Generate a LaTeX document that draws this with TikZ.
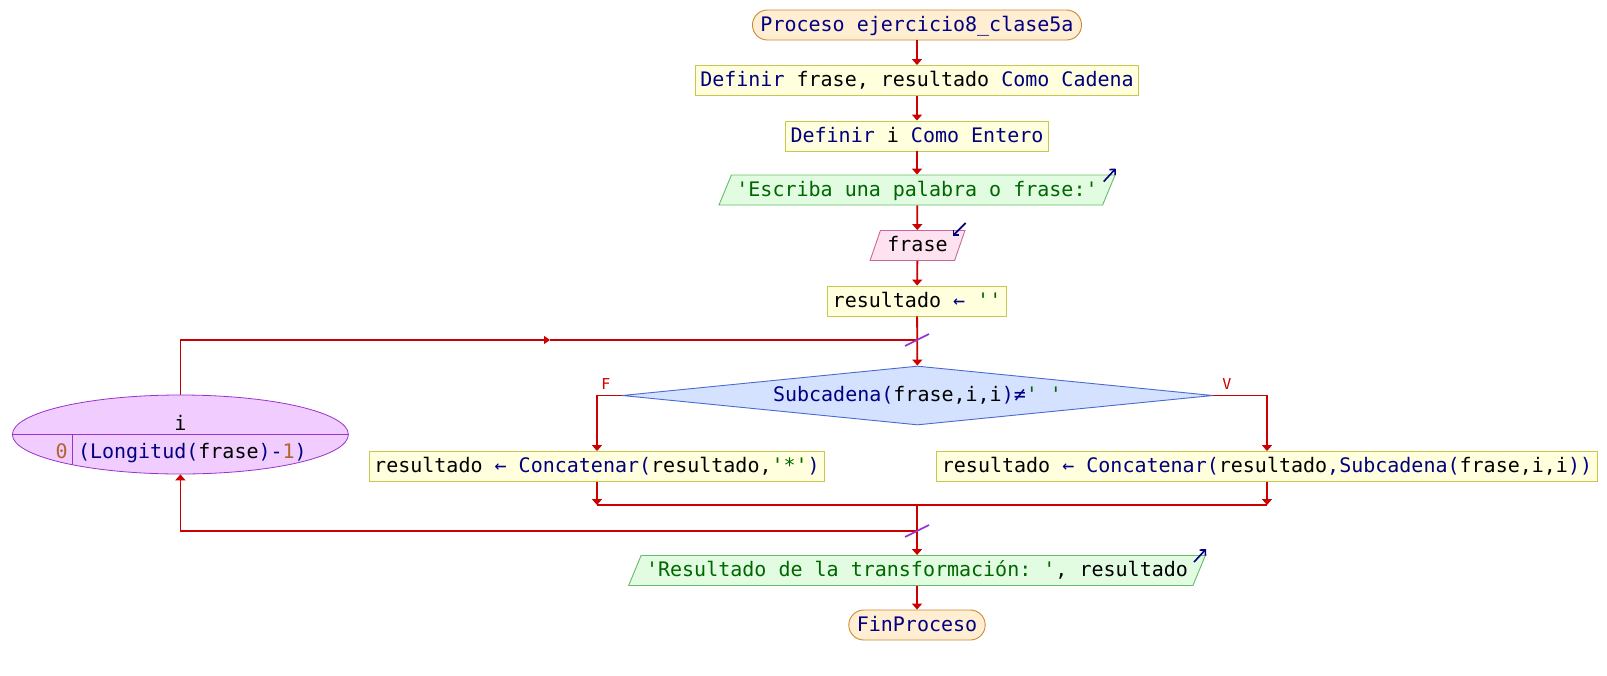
\documentclass[tikz,border=0pt]{standalone}
\usepackage{fontspec}
\setmonofont{DejaVu Sans Mono}
\usetikzlibrary{shapes.geometric,arrows.meta,calc}

% palette
\definecolor{kwc}{HTML}{000080}
\definecolor{strc}{HTML}{006600}
\definecolor{numc}{HTML}{B4642A}
\definecolor{flowc}{HTML}{CC0000}
\definecolor{termf}{HTML}{FFEED2}
\definecolor{termb}{HTML}{CC8833}
\definecolor{procf}{HTML}{FFFFDD}
\definecolor{procb}{HTML}{C8C850}
\definecolor{outf}{HTML}{E2FCE2}
\definecolor{outb}{HTML}{66BB66}
\definecolor{inf}{HTML}{FFE2F0}
\definecolor{inb}{HTML}{CC6699}
\definecolor{condf}{HTML}{D4E2FF}
\definecolor{condb}{HTML}{4A6AD0}
\definecolor{loopf}{HTML}{F0CCFF}
\definecolor{loopb}{HTML}{9933CC}

% token colouring
\newcommand\pkw[1]{\textcolor{kwc}{#1}}
\newcommand\pstr[1]{\textcolor{strc}{#1}}
\newcommand\pnumb[1]{\textcolor{numc}{#1}}

\tikzset{
  codetext/.style={font=\ttfamily\fontsize{20}{24}\selectfont,
    text height=16pt, text depth=4pt, inner ysep=5pt, inner xsep=5pt},
  termbox/.style={codetext, rectangle, rounded corners=15pt, draw=termb,
    fill=termf, line width=0.9pt, inner xsep=8pt},
  procbox/.style={codetext, rectangle, draw=procb, fill=procf, line width=0.9pt},
  outbox/.style={codetext, trapezium, trapezium left angle=67.5,
    trapezium right angle=112.5, draw=outb, fill=outf, line width=0.9pt},
  inbox/.style={codetext, trapezium, trapezium left angle=71,
    trapezium right angle=109, draw=inb, fill=inf, line width=0.9pt, inner xsep=7pt},
  condbox/.style={codetext, diamond, aspect=10, inner sep=0pt,
    minimum width=591pt, minimum height=59pt, draw=condb, fill=condf, line width=0.9pt},
  loopbox/.style={ellipse, minimum width=336pt, minimum height=79pt,
    draw=loopb, fill=loopf, line width=0.8pt,
    path picture={
      \draw[loopb, line width=0.8pt] (path picture bounding box.west) -- (path picture bounding box.east);
      \draw[loopb, line width=0.8pt] ($(path picture bounding box.center)+(-107.6,0)$) -- ++(0,60);
    }},
  plaintext/.style={codetext, inner ysep=0pt},
  branchlbl/.style={font=\ttfamily\fontsize{15}{18}\selectfont, text=flowc, inner sep=0pt},
  flowline/.style={draw=flowc, line width=1.8pt},
  flow/.style={flowline, -{Triangle[length=6pt,width=10pt]}},
  midflow/.style={flowline, -{Triangle[length=6pt,width=8pt]}},
  joinmark/.style={draw=loopb, line width=1.6pt},
  iomark/.style={draw=kwc, line width=1.6pt, -{Straight Barb[length=4pt,width=8pt]}}
}

\begin{document}
\begin{tikzpicture}[x=1pt, y=-1pt]
  \fill[white] (0,0) rectangle (1607,675);
  \useasboundingbox (0,0) rectangle (1607,675);

  % main column
  \node[termbox] (start) at (917,25) {\pkw{Proceso ejercicio8\_clase5a}};
  \node[procbox] (def1) at (917,80.5) {\pkw{Definir} frase, resultado \pkw{Como Cadena}};
  \node[procbox] (def2) at (917,136) {\pkw{Definir} i \pkw{Como Entero}};
  \node[outbox] (out1) at (917,190) {\pstr{'Escriba una palabra o frase:'}};
  \node[inbox] (in1) at (917.5,245.5) {frase};
  \node[procbox] (res0) at (917,301) {resultado \pkw{←} \pstr{''}};
  \node[condbox] (cond) at (917.5,395.5) {\pkw{Subcadena(}frase,i,i\pkw{)≠}\pstr{' '}};
  \node[procbox] (bodyF) at (597,466.5)
    {resultado \pkw{←} \pkw{Concatenar(}resultado,\pstr{'*'}\pkw{)}};
  \node[procbox] (bodyV) at (1267,466.5)
    {resultado \pkw{←} \pkw{Concatenar(}resultado\pkw{,Subcadena(}frase,i,i\pkw{))}};
  \node[outbox] (out2) at (917,570.5)
    {\pstr{'Resultado de la transformación: '}, resultado};
  \node[termbox] (end) at (917,625) {\pkw{FinProceso}};

  % counting loop
  \node[loopbox] (loop) at (180.4,434.5) {};
  \node[plaintext] (loopvar) at (180.4,424) {i};
  \node[plaintext, anchor=east] (loopfrom) at (72.8,452.5) {\pnumb{0}};
  \node[plaintext, anchor=west] (loopto) at (72.8,452.5)
    {\pkw{(Longitud(}frase\pkw{)-}\pnumb{1}\pkw{)}};

  % branch labels
  \node[branchlbl] (lblF) at (606,384) {F};
  \node[branchlbl] (lblV) at (1227,384) {V};

  % junction points
  \coordinate (jTop) at (917,340);
  \coordinate (midA) at (550,340);
  \coordinate (mergeL) at (597,505);
  \coordinate (mergeR) at (1267,505);
  \coordinate (jMid) at (917,505);
  \coordinate (jBot) at (917,531);

  % connectors
  \draw[flow] (start) -- (def1);
  \draw[flow] (def1) -- (def2);
  \draw[flow] (def2) -- (out1);
  \draw[flow] (out1) -- (in1);
  \draw[flow] (in1) -- (res0);
  \draw[flow] (res0) -- (cond);
  \draw[midflow] (loop.north) |- (midA);
  \draw[flowline] (midA) -- (jTop);
  \draw[flow] (cond.west) -| (bodyF);
  \draw[flow] (cond.east) -| (bodyV);
  \draw[flow] (bodyF) -- (mergeL);
  \draw[flow] (bodyV) -- (mergeR);
  \draw[flowline] (mergeL) -- (mergeR);
  \draw[flow] (jMid) -- (out2);
  \draw[flow] (jBot) -| (loop.south);
  \draw[flow] (out2) -- (end);

  % loop junction marks
  \draw[joinmark] ($(jTop)+(-12,6)$) -- ($(jTop)+(12,-6)$);
  \draw[joinmark] ($(jBot)+(-12,6)$) -- ($(jBot)+(12,-6)$);

  % read / write markers
  \draw[iomark] ($(out1.top right corner)+(-12,7)$) -- ($(out1.top right corner)+(0,-6)$);
  \draw[iomark] ($(out2.top right corner)+(-12,7)$) -- ($(out2.top right corner)+(0,-6)$);
  \draw[iomark] ($(in1.top right corner)+(0,-7)$) -- ($(in1.top right corner)+(-13,6)$);
\end{tikzpicture}
\end{document}
